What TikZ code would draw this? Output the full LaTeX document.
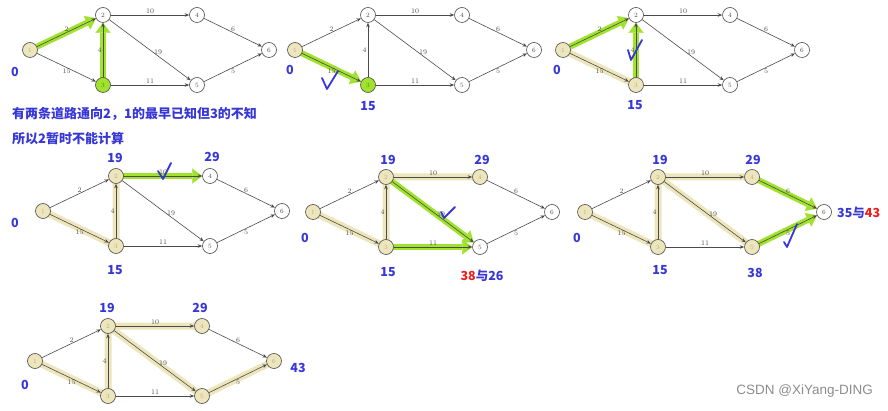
\documentclass[tikz,border=0pt]{standalone}
\usepackage{fontspec}
\newfontfamily\cjk{Noto Sans CJK SC}
\newfontfamily\wmfont{Liberation Sans}
\usetikzlibrary{arrows.meta,backgrounds}
\definecolor{hlgreen}{RGB}{160,226,45}
\definecolor{hltan}{RGB}{237,229,188}
\definecolor{lblue}{RGB}{55,55,215}
\definecolor{lred}{RGB}{240,30,30}
\definecolor{edgegray}{RGB}{75,75,75}
\tikzset{
 vtx/.style={circle, draw=edgegray, line width=0.6pt, fill=white, minimum size=15pt, inner sep=0pt, font=\fontsize{6.5}{6.5}\selectfont, text=edgegray},
 tanv/.style={fill=hltan, text=hltan!75!black},
 grnv/.style={fill=hlgreen, text=hlgreen!60!black},
 plainv/.style={},
 edge/.style={draw=edgegray, line width=0.6pt, -{Stealth[length=4.5pt,width=3.5pt]}},
 elab/.style={font=\fontsize{7}{7}\selectfont, text=edgegray, inner sep=1pt},
 tanhl/.style={draw=hltan, line width=7pt, line cap=round},
 grnhl/.style={draw=hlgreen, line width=6pt, -{Triangle[length=10pt,width=15pt,line width=0.1pt]}},
 numlab/.style={font=\cjk\bfseries\fontsize{12.5}{12.5}\selectfont, text=lblue, inner sep=0pt},
 noteline/.style={font=\cjk\bfseries\fontsize{13}{13}\selectfont, text=lblue, anchor=west, inner sep=0pt},
 chk/.style={draw=lblue, line width=1.8pt, line cap=round, line join=round},
}
\newcommand\drawpanel[7]{%
 \node[vtx,#2] (#1-1) at (0,0) {1};
 \node[vtx,#3] (#1-2) at (73,-35) {2};
 \node[vtx,#4] (#1-3) at (73,35) {3};
 \node[vtx,#5] (#1-4) at (167,-35) {4};
 \node[vtx,#6] (#1-5) at (167,35) {5};
 \node[vtx,#7] (#1-6) at (239,0) {6};
 \draw[edge] (#1-1) -- node[elab,above] {2} (#1-2);
 \draw[edge] (#1-1) -- node[elab,below] {15} (#1-3);
 \draw[edge] (#1-3) -- node[elab,left] {4} (#1-2);
 \draw[edge] (#1-2) -- node[elab,above] {10} (#1-4);
 \draw[edge] (#1-2) -- node[elab,above,pos=0.6] {19} (#1-5);
 \draw[edge] (#1-3) -- node[elab,above] {11} (#1-5);
 \draw[edge] (#1-4) -- node[elab,above] {6} (#1-6);
 \draw[edge] (#1-5) -- node[elab,below] {5} (#1-6);
}
\begin{document}
\begin{tikzpicture}[x=1pt,y=-1pt]
\useasboundingbox (0,0) rectangle (888,411);
% ---------- panel 1
\begin{scope}[shift={(30,50)}]
 \drawpanel{a}{tanv}{plainv}{grnv}{plainv}{plainv}{plainv}
\end{scope}
\begin{pgfonlayer}{background}
 \draw[grnhl] (a-1) -- (a-2);
 \draw[grnhl] (a-3.center) -- (a-2);
\end{pgfonlayer}
\node[numlab] (a0) at (15,72) {0};
\node[noteline] (note1) at (12,114) {有两条道路通向2，1的最早已知但3的不知};
\node[noteline] (note2) at (12,139) {所以2暂时不能计算};
% ---------- panel 2
\begin{scope}[shift={(295,50)}]
 \drawpanel{b}{tanv}{plainv}{grnv}{plainv}{plainv}{plainv}
\end{scope}
\begin{pgfonlayer}{background}
 \draw[grnhl] (b-1.center) -- (b-3);
\end{pgfonlayer}
\node[numlab] (b0) at (290,70) {0};
\node[numlab] (b15) at (368,106) {15};
\draw[chk] (322,78) -- (327,89) -- (338,71);
% ---------- panel 3
\begin{scope}[shift={(563,50)}]
 \drawpanel{c}{tanv}{plainv}{tanv}{plainv}{plainv}{plainv}
\end{scope}
\begin{pgfonlayer}{background}
 \draw[tanhl] (c-1.center) -- (c-3.center);
 \draw[grnhl] (c-1) -- (c-2);
 \draw[grnhl] (c-3.center) -- (c-2);
\end{pgfonlayer}
\node[numlab] (c0) at (557,70) {0};
\node[numlab] (c15) at (635,105) {15};
\draw[chk] (628,50) -- (631,60) -- (642,40);
% ---------- panel 4
\begin{scope}[shift={(43,211)}]
 \drawpanel{d}{tanv}{tanv}{tanv}{plainv}{plainv}{plainv}
\end{scope}
\begin{pgfonlayer}{background}
 \draw[tanhl] (d-1.center) -- (d-3.center) -- (d-2.center);
 \draw[grnhl] (d-2.center) -- (d-4);
\end{pgfonlayer}
\node[numlab] (d19) at (115,158) {19};
\node[numlab] (d29) at (212,157) {29};
\node[numlab] (d0) at (15,223) {0};
\node[numlab] (d15) at (115,270) {15};
\draw[chk] (158,171) -- (163,179) -- (171,163);
% ---------- panel 5
\begin{scope}[shift={(313,212)}]
 \drawpanel{e}{tanv}{tanv}{tanv}{tanv}{plainv}{plainv}
\end{scope}
\begin{pgfonlayer}{background}
 \draw[tanhl] (e-1.center) -- (e-3.center) -- (e-2.center) -- (e-4.center);
 \draw[grnhl] (e-2.center) -- (e-5);
 \draw[grnhl] (e-3.center) -- (e-5);
\end{pgfonlayer}
\node[numlab] (e19) at (388,160) {19};
\node[numlab] (e29) at (482,160) {29};
\node[numlab] (e0) at (305,238) {0};
\node[numlab] (e15) at (388,272) {15};
\node[numlab] (e38) at (482,276) {\textcolor{lred}{38}与26};
\draw[chk] (441,212) -- (444,218) -- (455,207);
% ---------- panel 6
\begin{scope}[shift={(585,212)}]
 \drawpanel{f}{tanv}{tanv}{tanv}{tanv}{tanv}{plainv}
\end{scope}
\begin{pgfonlayer}{background}
 \draw[tanhl] (f-1.center) -- (f-3.center) -- (f-2.center) -- (f-4.center);
 \draw[tanhl] (f-2.center) -- (f-5.center);
 \draw[grnhl] (f-4.center) -- (f-6);
 \draw[grnhl] (f-5.center) -- (f-6);
\end{pgfonlayer}
\node[numlab] (f19) at (660,160) {19};
\node[numlab] (f29) at (753,160) {29};
\node[numlab] (f0) at (577,238) {0};
\node[numlab] (f15) at (660,270) {15};
\node[numlab] (f38) at (755,273) {38};
\node[numlab,anchor=west] (f35) at (837,213) {35与\textcolor{lred}{43}};
\draw[chk] (784,242) -- (787,247) -- (797,224);
% ---------- panel 7
\begin{scope}[shift={(35,361)}]
 \drawpanel{g}{tanv}{tanv}{tanv}{tanv}{tanv}{tanv}
\end{scope}
\begin{pgfonlayer}{background}
 \draw[tanhl] (g-1.center) -- (g-3.center) -- (g-2.center) -- (g-4.center);
 \draw[tanhl] (g-2.center) -- (g-5.center) -- (g-6.center);
\end{pgfonlayer}
\node[numlab] (g19) at (107,308) {19};
\node[numlab] (g29) at (200,308) {29};
\node[numlab] (g0) at (25,385) {0};
\node[numlab] (g43) at (298,368) {43};
% ---------- watermark
\node[font=\wmfont\fontsize{13.5}{13.5}\selectfont, text=black!45, anchor=east, inner sep=0pt] (wm) at (873,391) {CSDN @XiYang-DING};
\end{tikzpicture}
\end{document}
